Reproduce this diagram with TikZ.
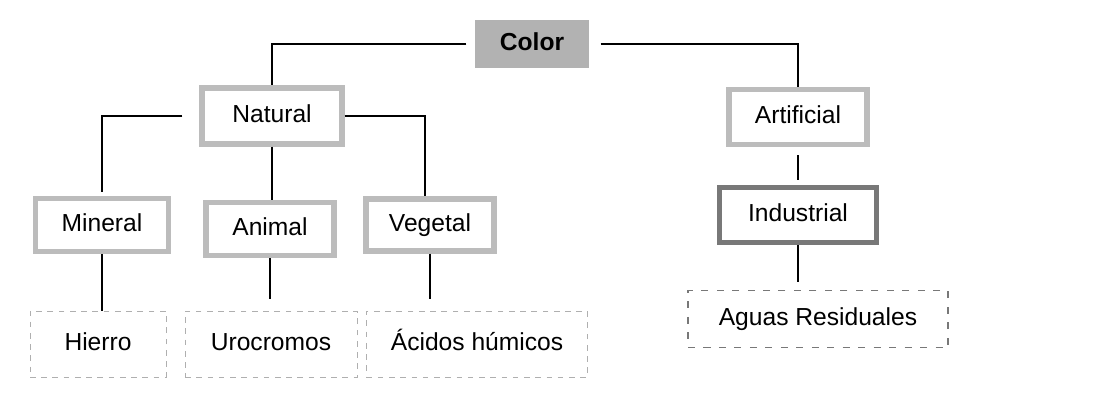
\documentclass[tikz,border=0pt]{standalone}
\usepackage{fontspec}
\setmainfont{Liberation Sans}
\usepackage{xcolor}
\usepackage{tikz}

\definecolor{grisclaro}{RGB}{188,188,188}
\definecolor{grisfondo}{RGB}{178,178,178}
\definecolor{grisoscuro}{RGB}{120,120,120}
\definecolor{grisrayas}{RGB}{175,175,175}

\def \px {0.025cm}

\tikzset{
	texto/.style={font=\fontsize{17.5}{21}\selectfont, inner sep=0pt, text height=12.6pt, text depth=3.4pt},
	raiz/.style={texto, draw=grisfondo, fill=grisfondo, line width=1pt},
	clase/.style={texto, draw=grisclaro, fill=white, line width=3.6pt},
	claseosc/.style={texto, draw=grisoscuro, fill=white, line width=3.6pt},
	ejemplo/.style={texto, draw=grisrayas, line width=0.6pt, dash pattern=on 4pt off 4pt},
	ejemplosc/.style={texto, draw=grisoscuro, line width=0.9pt, dash pattern=on 5pt off 6pt},
	rama/.style={line width=1.2pt}
}

\begin{document}
\begin{tikzpicture}[x=\px, y=-\px]

\useasboundingbox (0,0) rectangle (1118,402);

% raiz
\node[raiz, minimum width=112*\px, minimum height=47*\px] (color) at (532,44) {\textbf{Color}};

% primer nivel
\node[clase, minimum width=140*\px, minimum height=56*\px] (natural) at (272,116) {Natural};
\node[clase, minimum width=138*\px, minimum height=55*\px] (artificial) at (798,117) {Artificial};

% segundo nivel
\node[clase, minimum width=133*\px, minimum height=53*\px] (mineral) at (102,225) {Mineral};
\node[clase, minimum width=128*\px, minimum height=53*\px] (animal) at (270,229) {Animal};
\node[clase, minimum width=128*\px, minimum height=52*\px] (vegetal) at (430,225) {Vegetal};
\node[claseosc, minimum width=157*\px, minimum height=55*\px] (industrial) at (798,215) {Industrial};

% ejemplos
\node[ejemplo, minimum width=136*\px, minimum height=66*\px] (hierro) at (98,344) {Hierro};
\node[ejemplo, minimum width=172*\px, minimum height=66*\px] (urocromos) at (271,344) {Urocromos};
\node[ejemplo, minimum width=221*\px, minimum height=66*\px] (acidos) at (477,344) {Ácidos húmicos};
\node[ejemplosc, minimum width=260*\px, minimum height=57*\px] (aguas) at (818,319) {Aguas Residuales};

% ramas
\draw[rama, shorten <=9*\px] (color.west) -| (natural.north);
\draw[rama, shorten <=12*\px] (color.east) -| (artificial.north);

\draw[rama, shorten <=17*\px, shorten >=4*\px] (natural.west) -| (mineral.north);
\draw[rama] (natural.east) -| ([xshift=-5*\px]vegetal.north);
\draw[rama] (natural.south) -- (natural.south |- animal.north);

\draw[rama, shorten <=8*\px, shorten >=5*\px] (artificial.south) -- (industrial.north);
\draw[rama, shorten >=8*\px] (industrial.south) -- (industrial.south |- aguas.north);

\draw[rama] (mineral.south) -- (mineral.south |- hierro.north);
\draw[rama, shorten >=12*\px] (animal.south) -- (animal.south |- urocromos.north);
\draw[rama, shorten >=12*\px] (vegetal.south) -- (vegetal.south |- acidos.north);

\end{tikzpicture}
\end{document}
